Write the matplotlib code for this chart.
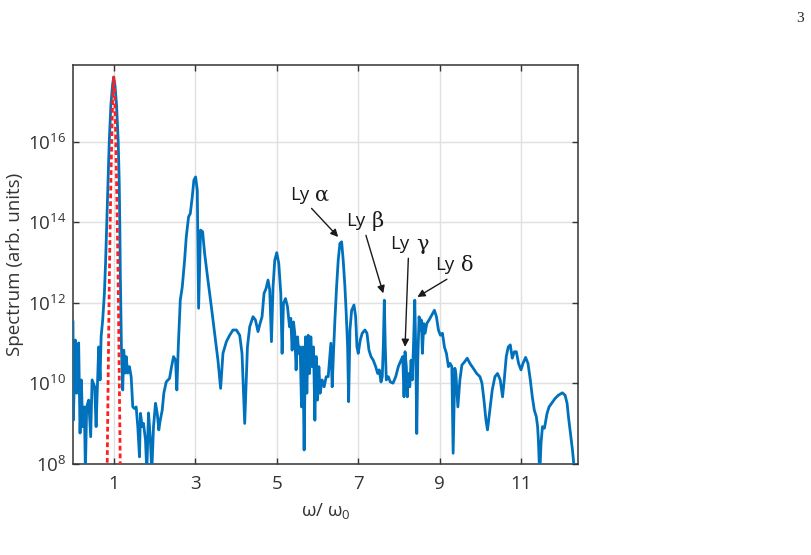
import matplotlib
matplotlib.use("Agg")
import matplotlib.pyplot as plt
import numpy as np

plt.rcParams['font.family'] = ['Open Sans', 'DejaVu Sans']
plt.rcParams['mathtext.fontset'] = 'custom'
plt.rcParams['mathtext.rm'] = 'Open Sans'
plt.rcParams['mathtext.it'] = 'Open Sans'
plt.rcParams['mathtext.default'] = 'regular'

# ---------------- data ----------------
omega = [0.0, 0.008, 0.058, 0.090, 0.139, 0.173, 0.205, 0.237, 0.279, 0.304, 0.336, 0.385, 0.434, 0.469, 0.500,
         0.532, 0.567, 0.599, 0.631, 0.665, 0.690, 0.729, 0.771, 0.80, 0.828, 0.86, 0.89, 0.93, 0.97, 1.0,
         1.03, 1.07, 1.11, 1.135, 1.15, 1.162, 1.177, 1.189,
         1.221, 1.246, 1.281, 1.305, 1.344, 1.386, 1.428, 1.468, 1.509, 1.551, 1.591, 1.632, 1.657, 1.699, 1.731,
         1.780, 1.812, 1.854, 1.896, 1.935, 1.977, 2.026, 2.068, 2.107, 2.142, 2.191, 2.230, 2.289, 2.371, 2.420,
         2.469, 2.518, 2.550, 2.585, 2.634, 2.683, 2.740, 2.781, 2.838, 2.880, 2.929, 2.968, 3.010, 3.052, 3.084,
         3.133, 3.183, 3.232, 3.313, 3.397, 3.478, 3.559, 3.625, 3.682, 3.766, 3.847, 3.928, 4.012, 4.093, 4.150,
         4.216, 4.283, 4.339, 4.420, 4.479, 4.543, 4.593, 4.642, 4.691, 4.740, 4.789, 4.831, 4.873, 4.912, 4.954,
         5.003, 5.053, 5.102, 5.134, 5.168, 5.217, 5.267, 5.316, 5.348, 5.380, 5.414, 5.446, 5.478, 5.513, 5.545,
         5.577, 5.611, 5.643, 5.675, 5.710, 5.742, 5.774, 5.808, 5.840, 5.872, 5.906, 5.939, 5.970, 6.005, 6.037,
         6.069, 6.118, 6.167, 6.217, 6.266, 6.307,
         6.332, 6.364, 6.399, 6.431, 6.472, 6.512, 6.554, 6.596, 6.635, 6.677, 6.709, 6.743, 6.768, 6.800, 6.842,
         6.899, 6.940, 6.972, 7.004, 7.053, 7.102, 7.169, 7.218, 7.267, 7.317, 7.373, 7.432, 7.481, 7.521, 7.563,
         7.594, 7.619, 7.644, 7.668, 7.693, 7.742, 7.791, 7.858, 7.924, 7.988, 8.055, 8.097, 8.128, 8.153, 8.185,
         8.210, 8.234, 8.269, 8.301, 8.333, 8.367, 8.392, 8.417, 8.441, 8.466, 8.498, 8.530, 8.554, 8.579, 8.613,
         8.645, 8.687, 8.744, 8.810, 8.874, 8.924, 8.973, 9.022, 9.071, 9.120, 9.169, 9.219, 9.260, 9.302, 9.334,
         9.376, 9.401, 9.450, 9.500, 9.549, 9.616, 9.680, 9.746, 9.828, 9.912, 9.993, 10.042, 10.091, 10.140,
         10.178, 10.227, 10.294, 10.360, 10.424, 10.491, 10.547, 10.589, 10.638, 10.688, 10.737, 10.786, 10.836,
         10.885, 10.941, 11.000, 11.049, 11.113, 11.172, 11.229, 11.278, 11.327, 11.376, 11.408, 11.427, 11.460,
         11.492, 11.527, 11.576, 11.640, 11.689, 11.753, 11.837, 11.918, 12.016, 12.083, 12.132, 12.165, 12.214,
         12.264, 12.296, 12.329]

log10_spectrum = [11.52, 9.08, 11.07, 9.75, 11.0, 8.76, 10.08, 8.92, 9.41, 7.8, 9.41, 9.58, 8.67, 10.08, 10.0,
                  9.91, 8.92, 9.91, 10.9, 10.08, 11.15, 11.57, 12.23, 13.0, 13.9, 15.0, 16.0, 16.9, 17.4, 17.6,
                  17.4, 16.9, 16.0, 15.0, 13.9, 12.7, 11.6, 10.9,
                  9.83, 10.82, 10.25, 10.66, 10.25, 10.41, 10.16, 9.41, 9.37, 9.41, 8.92, 8.17, 9.25, 8.92, 9.0,
                  8.59, 7.8, 9.26, 8.67, 7.8, 8.92, 9.5, 9.25, 8.84, 9.08, 9.33, 9.75, 10.03, 10.12, 10.41,
                  10.66, 10.57, 9.83, 10.9, 12.06, 12.39, 13.05, 13.63, 14.13, 14.21, 14.63, 15.04, 15.12, 14.79, 11.86,
                  13.8, 13.76, 13.22, 12.56, 11.9, 11.24, 10.57, 9.87, 10.74, 11.03, 11.19, 11.32, 11.32, 11.19, 10.74,
                  9.0, 10.9, 11.4, 11.65, 11.57, 11.28, 11.48, 11.65, 12.23, 12.35, 12.56, 12.31, 11.03, 12.39, 13.05,
                  13.24, 12.97, 12.23, 10.74, 11.98, 12.1, 11.9, 11.4, 11.61, 10.82, 11.52, 11.24, 10.33, 11.15, 10.74,
                  10.9, 9.41, 10.9, 8.34, 11.15, 9.75, 11.19, 10.24, 11.15, 10.41, 10.9, 9.08, 10.66, 9.58, 10.41,
                  9.75, 10.08, 9.91, 10.16, 10.16, 10.66,
                  10.99, 9.91, 10.82, 11.57, 12.39, 13.05, 13.47, 13.51, 13.05, 12.39, 11.73, 10.9, 9.54, 11.32, 11.81,
                  11.94, 11.65, 10.9, 10.74, 11.07, 11.24, 11.32, 11.24, 10.82, 10.66, 10.57, 10.41, 10.24, 10.33, 10.03,
                  10.16, 10.9, 12.06, 10.9, 10.08, 10.16, 10.03, 10.0, 10.16, 10.41, 10.57, 10.66, 9.66, 10.78, 10.41,
                  9.66, 10.24, 9.91, 10.57, 10.08, 11.15, 12.06, 10.74, 8.75, 10.57, 11.65, 11.32, 11.57, 10.74, 11.48,
                  11.24, 11.48, 11.57, 11.69, 11.81, 11.65, 11.32, 11.19, 11.24, 10.9, 10.74, 10.41, 10.49, 10.41, 8.26,
                  10.37, 10.24, 9.41, 10.08, 10.45, 10.53, 10.62, 10.49, 10.37, 10.24, 10.16, 10.0, 9.58, 9.08,
                  8.84, 9.25, 9.83, 10.16, 10.24, 10.08, 9.66, 10.08, 10.66, 10.9, 10.95, 10.62, 10.78,
                  10.78, 10.49, 10.33, 10.49, 10.64, 10.49, 10.08, 9.66, 9.33, 9.17, 8.92, 8.59, 7.7,
                  8.51, 8.92, 8.88, 9.25, 9.41, 9.5, 9.62, 9.7, 9.76, 9.7, 9.5, 9.17, 8.75,
                  8.34, 8.0, 7.6]

pulse_omega = [0.80, 0.84, 0.86, 0.877, 0.895, 0.914, 0.93, 0.95, 0.975, 1.0,
               1.025, 1.05, 1.07, 1.086, 1.105, 1.123, 1.14, 1.16, 1.20]
pulse_log10 = [5.0, 8.0, 9.8, 11.3, 12.8, 14.0, 15.0, 16.0, 17.2, 17.6,
               17.2, 16.0, 15.0, 14.0, 12.8, 11.3, 9.8, 8.0, 5.0]

xtick_vals = [1, 3, 5, 7, 9, 11]
ytick_exps = [8, 10, 12, 14, 16]

label_prefix = 'Ly'
greek_letters = ['α', 'β', 'γ', 'δ']
label_xy = [(5.815, 14.67), (7.19, 14.03), (8.284, 13.45), (9.383, 12.93)]
arrow_tail = [(5.857, 14.34), (7.193, 13.67), (8.234, 13.10), (9.18, 12.58)]
arrow_head = [(6.512, 13.63), (7.619, 12.23), (8.153, 10.9), (8.456, 12.14)]

# ---------------- figure ----------------
fig = plt.figure(figsize=(8.12, 5.55), dpi=100)
ax = fig.add_axes([73 / 812, 1 - 463.7 / 555, 505 / 812, 398.7 / 555])

blue = '#0072BD'
ax.plot(omega, 10.0 ** np.array(log10_spectrum), color=blue, lw=2.0, zorder=3)
ax.plot(pulse_omega, 10.0 ** np.array(pulse_log10), color='#FF1F1F', lw=2.0,
        linestyle=(0, (1.7, 1.1)), zorder=4)

ax.set_yscale('log')
ax.set_xlim(0, 12.4)
ax.set_ylim(1e8, 10 ** 17.9)
ax.set_xticks(xtick_vals)
ax.set_xticklabels([str(v) for v in xtick_vals])
ax.set_yticks([10.0 ** e for e in ytick_exps])
ax.set_yticklabels([r'$10^{%d}$' % e for e in ytick_exps])
ax.yaxis.set_minor_locator(matplotlib.ticker.NullLocator())

axcol = '#333333'
for s in ax.spines.values():
    s.set_color(axcol)
    s.set_linewidth(1.1)
ax.tick_params(which='both', direction='in', top=True, right=True, length=4,
               width=1.0, color=axcol, labelcolor=axcol, labelsize=13.5)
ax.tick_params(axis='x', pad=8)
ax.tick_params(axis='y', pad=5)
ax.grid(True, color='#E0E0E0', lw=1.0, zorder=0)
ax.set_axisbelow(True)

ax.set_xlabel('ω/ ω$_0$', fontsize=13.5, color=axcol, labelpad=6)
ax.set_ylabel('Spectrum (arb. units)', fontsize=13.5, color=axcol, labelpad=3)

for g, (tx, ty), (ax0, ay0), (hx, hy) in zip(greek_letters, label_xy, arrow_tail, arrow_head):
    ax.annotate(label_prefix, xy=(tx, 10 ** ty), xytext=(-0.5, 0), textcoords='offset points',
                fontsize=13.5, color='#1a1a1a', ha='right', va='center', zorder=6)
    ax.annotate(g, xy=(tx, 10 ** ty), xytext=(4.0, 0), textcoords='offset points',
                fontsize=15, family=['DejaVu Serif'], color='#1a1a1a',
                ha='left', va='center', zorder=6)
    ax.annotate('', xy=(hx, 10 ** hy), xytext=(ax0, 10 ** ay0),
                arrowprops=dict(arrowstyle='-|>', color='#1a1a1a', lw=1.0,
                                mutation_scale=11, shrinkA=0, shrinkB=0), zorder=6)

fig.text(800 / 812, 1 - 18 / 555, '3', fontsize=11, family='Liberation Serif',
         ha='center', va='center', color='#222222')

fig.savefig('out.png', dpi=100)
